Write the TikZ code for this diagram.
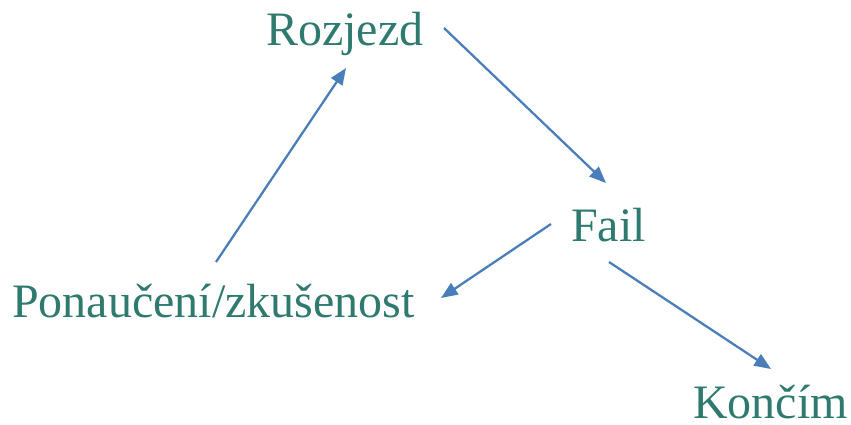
\documentclass[tikz,border=0pt]{standalone}
\usepackage{fontspec}
\setmainfont{Liberation Serif}
\usetikzlibrary{arrows.meta}
\definecolor{txt}{RGB}{47,122,110}
\definecolor{arr}{RGB}{74,126,187}
\begin{document}
\begin{tikzpicture}[x=0.75pt,y=-0.75pt,
  lbl/.style={anchor=base west,inner sep=0pt,text=txt,font=\fontsize{36}{40}\selectfont},
  conn/.style={draw=arr,line width=1.7pt,-{Triangle[length=12.5pt,width=10pt]}}]
\useasboundingbox (0,0) rectangle (851,425);
\node[lbl] (roz) at (266,45) {Rozjezd};
\node[lbl] (fail) at (571,241) {Fail};
\node[lbl] (pon) at (12,317) {Ponaučení/zkušenost};
\node[lbl] (kon) at (693,418) {Končím};
\coordinate (a1) at (216,262); \coordinate (b1) at (346,68);
\coordinate (a2) at (444,28); \coordinate (b2) at (606,183);
\coordinate (a3) at (551,224); \coordinate (b3) at (441,298);
\coordinate (a4) at (609,262); \coordinate (b4) at (771,369);
\draw[conn] (a1) -- (b1);
\draw[conn] (a2) -- (b2);
\draw[conn] (a3) -- (b3);
\draw[conn] (a4) -- (b4);
\end{tikzpicture}
\end{document}
